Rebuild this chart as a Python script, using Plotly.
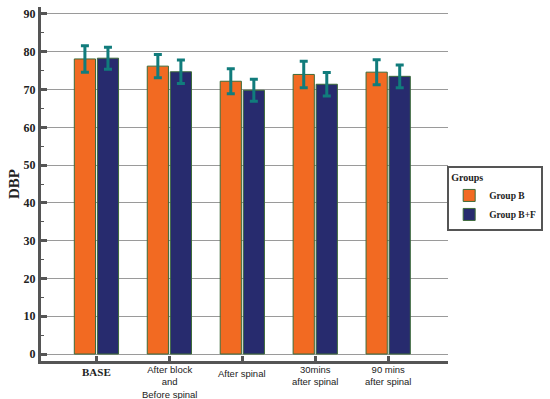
import plotly.graph_objects as go

categories = ["BASE", "After block\nand\nBefore spinal", "After spinal", "30mins\nafter spinal", "90 mins\nafter spinal"]
group_b = [78.1, 76.2, 72.2, 74.0, 74.6]
group_b_err = [3.5, 3.1, 3.3, 3.5, 3.3]
group_bf = [78.3, 74.7, 69.8, 71.4, 73.5]
group_bf_err = [2.9, 3.1, 2.9, 3.1, 3.0]
y_ticks = [0, 10, 20, 30, 40, 50, 60, 70, 80, 90]

x_idx = list(range(len(categories)))
SERIF = "Liberation Serif"
SANS = "Liberation Sans"
ORANGE = "#F26A22"
NAVY = "#272B6E"
EDGE = "#3D6B3A"
TEAL = "#117C7C"
AX = "#555555"

fig = go.Figure()
for name, vals, errs, col in [("Group B", group_b, group_b_err, ORANGE),
                               ("Group B+F", group_bf, group_bf_err, NAVY)]:
    fig.add_trace(go.Bar(
        x=x_idx, y=vals, name=name,
        marker=dict(color=col, line=dict(color=EDGE, width=1)),
        error_y=dict(type="data", array=errs, visible=True, color=TEAL, thickness=3, width=4),
    ))

# category labels as text below the axis
for i, lab in enumerate(categories):
    lines = lab.split("\n")
    if i == 0:
        txt = "<b>" + lab + "</b>"
        font = dict(family=SERIF, size=11, color="#222222")
        top = 365
    else:
        txt = "<br>".join(lines)
        font = dict(family=SANS, size=9.5, color="#222222")
        top = 363 if len(lines) > 1 else 367
    fig.add_annotation(x=i, xref="x", y=0, yref="paper", text=txt, showarrow=False,
                       yanchor="top", yshift=-(top - 361), font=font, borderpad=0)

fig.update_layout(
    width=550, height=399,
    margin=dict(l=41, r=84, t=7, b=38),
    paper_bgcolor="white", plot_bgcolor="white",
    barmode="group", bargap=0.368, bargroupgap=0.08,
    showlegend=True,
    legend=dict(
        title=dict(text="Groups", font=dict(family=SERIF, size=10, color="#222222", weight="bold")),
        font=dict(family=SERIF, size=9.5, color="#222222", weight="bold"),
        x=0.998, xanchor="left", y=0.551, yanchor="top",
        bordercolor=AX, borderwidth=2, bgcolor="white",
        tracegroupgap=0, itemwidth=30,
    ),
    xaxis=dict(
        range=[-0.76, 4.82], tickmode="array", tickvals=x_idx, showticklabels=False,
        showline=True, linecolor=AX, linewidth=3, ticks="inside", ticklen=5, tickwidth=3,
        tickcolor=AX, showgrid=False, zeroline=False,
    ),
    yaxis=dict(
        range=[-1.85, 91.85], tickmode="array", tickvals=y_ticks,
        ticktext=["<b>%d</b>" % v for v in y_ticks],
        tickfont=dict(family=SERIF, size=12, color="#222222"),
        showline=True, linecolor=AX, linewidth=3, ticks="inside", ticklen=6, tickwidth=3,
        tickcolor=AX, showgrid=True, gridcolor="#9a9a9a", gridwidth=1, zeroline=False,
        minor=dict(dtick=5, tick0=0, ticks="inside", ticklen=3, tickwidth=1, tickcolor=AX, showgrid=False),
        title=dict(text="<b>DBP</b>", font=dict(family=SERIF, size=15, color="#222222"), standoff=1),
    ),
)

fig.write_html("out.html", config={"displayModeBar": False},
               post_script="document.body.style.margin='0';")
